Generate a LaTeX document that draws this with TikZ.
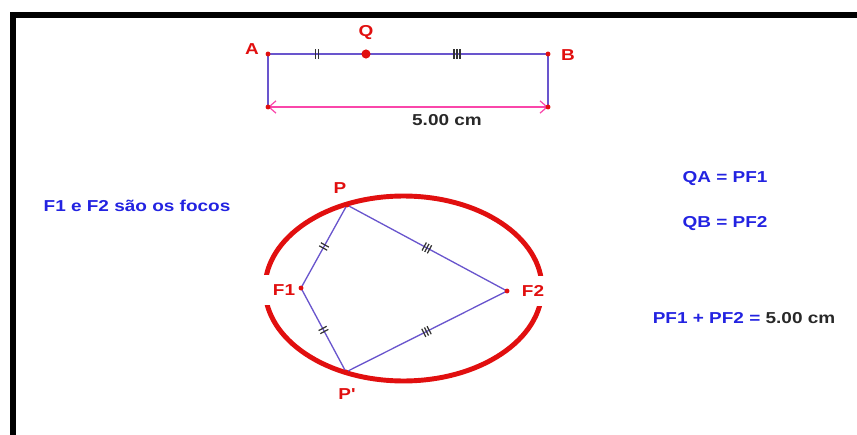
\documentclass[tikz,border=0pt]{standalone}
\usepackage{fontspec}
\setmainfont{Liberation Sans}
\newfontfamily\figfont[FakeStretch=1.2]{Liberation Sans}
\usetikzlibrary{arrows.meta,decorations.markings}

\definecolor{ptred}{RGB}{225,15,15}
\definecolor{segline}{RGB}{105,85,205}
\definecolor{measline}{RGB}{250,70,170}
\definecolor{txtblue}{RGB}{35,35,225}
\definecolor{txtgray}{RGB}{40,40,40}

\tikzset{
    lbl/.style={
        font=\figfont\bfseries\fontsize{9}{11}\selectfont,
        text=ptred,
        inner sep=1pt,
    },
    note/.style={
        lbl,
        text=txtblue,
    },
    seg/.style={
        draw=segline,
        line width=0.75pt,
    },
    tickline/.style={
        black!80,
        line width=0.7pt,
    },
    two ticks/.style={
        postaction={decorate, decoration={markings,
            mark=at position 0.5 with {
                \draw[tickline] (-1pt,-2.6pt) -- (-1pt,2.6pt);
                \draw[tickline] (1pt,-2.6pt) -- (1pt,2.6pt);
            }}},
    },
    three ticks/.style={
        postaction={decorate, decoration={markings,
            mark=at position 0.5 with {
                \foreach \dx in {-1.7pt,0pt,1.7pt}
                    \draw[tickline] (\dx,-2.6pt) -- (\dx,2.6pt);
            }}},
    },
    gap/.style={
        lbl,
        fill=white,
        inner xsep=6pt,
        inner ysep=5.5pt,
    },
}
\def\dotr{1.4pt}

\begin{document}
\begin{tikzpicture}[x=0.02cm, y=-0.02cm]

    \useasboundingbox (0,0) rectangle (857,435);

    % frame
    \draw[line width=6*0.567pt] (13,440) -- (13,15) -- (870,15);

    % points
    \coordinate (A)  at (268,54);
    \coordinate (Q)  at (366,54);
    \coordinate (B)  at (548,54);
    \coordinate (Ab) at (268,107);
    \coordinate (Bb) at (548,107);
    \coordinate (E)  at (403.5,288.5);
    \coordinate (F1) at (301,288);
    \coordinate (F2) at (507,291);
    \coordinate (P)  at (347,205);
    \coordinate (Pp) at (346,372);

    % segment AB
    \draw[seg] (Ab) -- (A);
    \draw[seg] (Bb) -- (B);
    \draw[seg, two ticks] (A) -- (Q);
    \draw[seg, three ticks] (Q) -- (B);
    \draw[measline, line width=0.7pt,
        {Straight Barb[length=4pt,width=7pt]}-{Straight Barb[length=4pt,width=7pt]}] (Ab) -- (Bb);

    % ellipse
    \draw[ptred, line width=2.8pt] (E) ellipse [x radius=2.77cm, y radius=1.85cm];
    \node[gap] (labF1) at (284,290) {F1};
    \node[gap, inner xsep=3pt] (labF2) at (533,291) {F2};

    % chords
    \draw[seg, two ticks] (P) -- (F1);
    \draw[seg, two ticks] (F1) -- (Pp);
    \draw[seg, three ticks] (P) -- (F2);
    \draw[seg, three ticks] (Pp) -- (F2);

    % dots
    \foreach \p in {A,B,Ab,Bb,F1,F2,P,Pp} {
        \fill[ptred] (\p) circle (\dotr);
    }
    \fill[ptred] (Q) circle (2.6pt);

    % labels
    \node[lbl] (labA) at (252,49) {A};
    \node[lbl] (labQ) at (366,33) {Q};
    \node[lbl] (labB) at (568,55) {B};
    \node[lbl] (labP) at (340,188) {P};
    \node[lbl] (labPp) at (347,394) {P'};
    \node[lbl, text=txtgray] (len) at (447,120) {5.00 cm};

    % notes
    \node[note] (foci) at (137,206) {F1 e F2 são os focos};
    \node[note] (eqA) at (725,179) {QA = PF1};
    \node[note] (eqB) at (725,224) {QB = PF2};
    \node[note] (sum) at (744,318) {PF1 + PF2 = \textcolor{txtgray}{5.00 cm}};

\end{tikzpicture}
\end{document}
